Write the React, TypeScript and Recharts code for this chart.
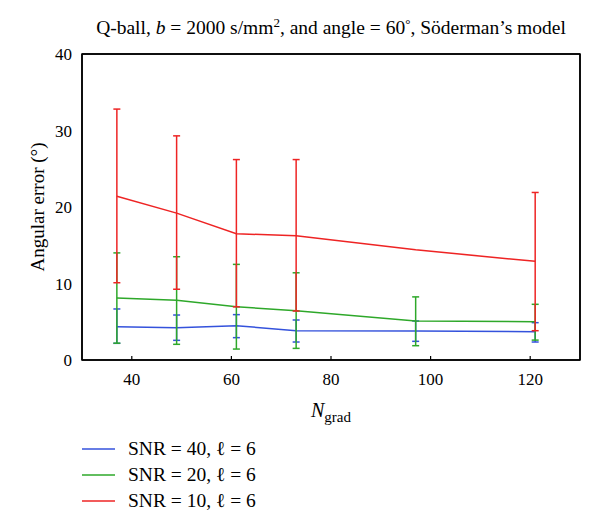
import React from "react";
import { LineChart, Line, XAxis, YAxis, ErrorBar, Label, ReferenceArea } from "recharts";

const nGrad = [37, 49, 61, 73, 97, 121];

const snr40 = [4.35, 4.22, 4.49, 3.83, 3.8, 3.7];
const snr40Lo = [2.18, 2.57, 2.92, 2.35, 2.44, 2.35];
const snr40Hi = [6.67, 5.88, 5.93, 5.23, 5.1, 4.88];

const snr20 = [8.1, 7.8, 6.95, 6.45, 5.1, 5.0];
const snr20Lo = [2.2, 2.05, 1.43, 1.52, 1.87, 2.6];
const snr20Hi = [14.0, 13.5, 12.5, 11.4, 8.25, 7.28];

const snr10 = [21.4, 19.2, 16.5, 16.25, 14.4, 12.9];
const snr10Lo: (number | null)[] = [10.1, 9.25, 6.95, 6.4, null, 3.83];
const snr10Hi: (number | null)[] = [32.8, 29.3, 26.2, 26.2, null, 21.9];

const xTicks = [40, 60, 80, 100, 120];
const yTicks = [0, 10, 20, 30, 40];
const yTicksRight = [10, 20, 30];

const seriesNames = ["SNR = 40, \u2113 = 6", "SNR = 20, \u2113 = 6", "SNR = 10, \u2113 = 6"];
const colors = ["#3452dc", "#2ea82a", "#ee2424"];

const err = (v: number, lo: number | null, hi: number | null) =>
  lo == null || hi == null ? undefined : [v - lo, hi - v];

const data = nGrad.map((n, i) => ({
  n,
  s40: snr40[i],
  e40: err(snr40[i], snr40Lo[i], snr40Hi[i]),
  s20: snr20[i],
  e20: err(snr20[i], snr20Lo[i], snr20Hi[i]),
  s10: snr10[i],
  e10: err(snr10[i], snr10Lo[i], snr10Hi[i]),
}));

const FONT = "Liberation Serif, Times New Roman, Tinos, DejaVu Serif, serif";

const XLabel = (props: any) => {
  const vb = props.viewBox || {};
  const cx = vb.x + vb.width / 2;
  return (
    <text x={cx} y={vb.y + 57} textAnchor="middle" style={{ fontFamily: FONT }} fill="#000">
      <tspan fontStyle="italic" fontSize={20}>N</tspan>
      <tspan fontSize={15} dy={5}>grad</tspan>
    </text>
  );
};

export default function App() {
  return (
    <div style={{ position: "relative", width: 584, height: 515, fontFamily: FONT }}>
      <div
        style={{
          position: "absolute",
          left: 74,
          width: 498,
          top: 9,
          textAlign: "center",
          fontSize: 19.5,
          whiteSpace: "nowrap",
          color: "#000",
        }}
      >
        Q-ball, <i>b</i> = 2000 s/mm<sup style={{ fontSize: 13, verticalAlign: "7px", lineHeight: 0 }}>2</sup>, and angle = 60<sup style={{ fontSize: 13, verticalAlign: "6px", lineHeight: 0 }}>&deg;</sup>, S&ouml;derman&rsquo;s model
      </div>
      <LineChart
        width={584}
        height={430}
        data={data}
        margin={{ top: 45, right: 11, bottom: 18, left: 0 }}
        style={{ position: "absolute", left: 0, top: 0 }}
      >
        <XAxis
          xAxisId={0}
          dataKey="n"
          type="number"
          domain={[30, 130]}
          ticks={xTicks}
          allowDataOverflow
          height={60}
          tickSize={-4}
          tickMargin={17}
          axisLine={{ stroke: "#000", strokeWidth: 1.5 }}
          tickLine={{ stroke: "#000", strokeWidth: 1.2 }}
          tick={{ fill: "#000", fontSize: 17, fontFamily: FONT }}
        >
          <Label content={<XLabel />} />
        </XAxis>
        <XAxis
          xAxisId="top"
          orientation="top"
          type="number"
          dataKey="n"
          domain={[30, 130]}
          allowDataOverflow
          height={1}
          tick={false}
          tickLine={false}
          axisLine={{ stroke: "#000", strokeWidth: 1.5 }}
        />
        <YAxis
          yAxisId={0}
          type="number"
          domain={[0, 40]}
          ticks={yTicks}
          allowDataOverflow
          width={74}
          tickSize={0}
          tickMargin={10}
          tickLine={false}
          axisLine={{ stroke: "#000", strokeWidth: 1.5 }}
          tick={{ fill: "#000", fontSize: 17, fontFamily: FONT }}
        >
          <Label
            value="Angular error (°)"
            angle={-90}
            position="insideLeft"
            offset={29}
            style={{ textAnchor: "middle", fontSize: 19, fontFamily: FONT, fill: "#000" }}
          />
        </YAxis>
        <YAxis
          yAxisId="right"
          orientation="right"
          type="number"
          domain={[0, 40]}
          allowDataOverflow
          ticks={yTicksRight}
          width={1}
          tick={false}
          tickSize={-4}
          tickLine={{ stroke: "#000", strokeWidth: 1.2 }}
          axisLine={{ stroke: "#000", strokeWidth: 1.5 }}
        />
        <ReferenceArea
          x1={30}
          x2={130}
          y1={0}
          y2={40}
          fill="none"
          stroke="#000"
          strokeWidth={1.5}
          ifOverflow="visible"
        />
        <Line dataKey="s40" xAxisId="top" yAxisId="right" stroke="none" dot={false} activeDot={false} legendType="none" isAnimationActive={false} />
        <Line dataKey="s40" stroke={colors[0]} strokeWidth={1.5} dot={false} isAnimationActive={false}>
          <ErrorBar dataKey="e40" width={3.5} stroke={colors[0]} strokeWidth={1.5} direction="y" isAnimationActive={false} />
        </Line>
        <Line dataKey="s20" stroke={colors[1]} strokeWidth={1.5} dot={false} isAnimationActive={false}>
          <ErrorBar dataKey="e20" width={3.5} stroke={colors[1]} strokeWidth={1.5} direction="y" isAnimationActive={false} />
        </Line>
        <Line dataKey="s10" stroke={colors[2]} strokeWidth={1.5} dot={false} isAnimationActive={false}>
          <ErrorBar dataKey="e10" width={3.5} stroke={colors[2]} strokeWidth={1.5} direction="y" isAnimationActive={false} />
        </Line>
      </LineChart>
      <div style={{ position: "absolute", left: 74, top: 428 }}>
        {seriesNames.map((name, i) => (
          <div key={name} style={{ display: "flex", alignItems: "center", height: 26, lineHeight: "26px", fontSize: 19.5, color: "#000" }}>
            <svg width={33} height={4} style={{ marginRight: 13, display: "block" }}>
              <line x1={0} y1={2} x2={33} y2={2} stroke={colors[i]} strokeWidth={1.5} />
            </svg>
            <span>{name}</span>
          </div>
        ))}
      </div>
    </div>
  );
}
